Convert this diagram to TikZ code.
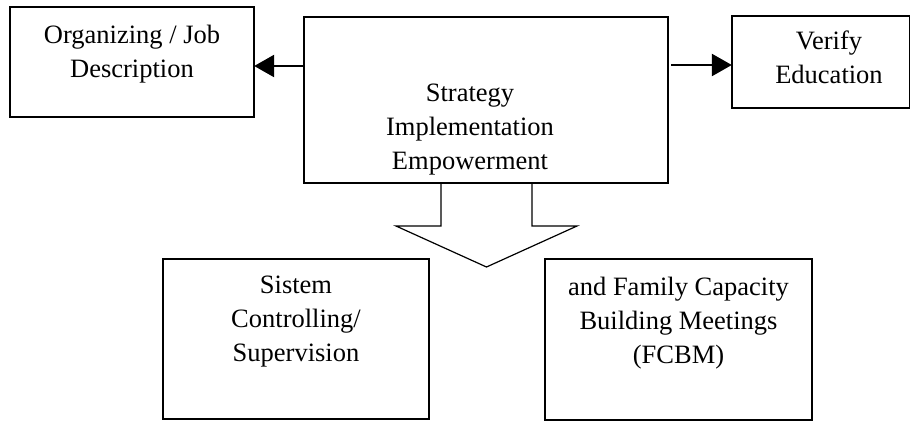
\documentclass[tikz,border=0pt]{standalone}
\usepackage{fontspec}
\setmainfont{Liberation Serif}
\usetikzlibrary{arrows.meta}
\begin{document}
\begin{tikzpicture}[x=1pt,y=-1pt,
  box/.style={draw=black,line width=1.2pt,fill=none},
  txt/.style={inner sep=0pt,align=center,anchor=base,font=\fontsize{26.5}{34}\selectfont},
  arr/.style={line width=2.6pt,-{Triangle[length=20pt,width=22pt]}},
  blockarrow/.style={draw=black,line width=1.2pt,line join=miter}]
\useasboundingbox (0,0) rectangle (910,421);
% boxes
\path[box] (10,7) rectangle (254,117);
\node[inner sep=0pt,minimum width=244pt,minimum height=110pt] (org) at (132,62) {};
\path[box] (304,17) rectangle (668,183);
\node[inner sep=0pt,minimum width=364pt,minimum height=166pt] (main) at (486,100) {};
\path[box] (732,16) rectangle (910,108);
\node[inner sep=0pt,minimum width=178pt,minimum height=92pt] (ver) at (821,62) {};
\path[box] (163,259) rectangle (429,419);
\node[inner sep=0pt,minimum width=266pt,minimum height=160pt] (sis) at (296,339) {};
\path[box] (545,259) rectangle (812,420);
\node[inner sep=0pt,minimum width=267pt,minimum height=161pt] (fam) at (678.5,339.5) {};
% texts (anchor = baseline of last line)
\node[txt] (orgt) at (132,77) {Organizing / Job\\Description};
\node[txt] (maint) at (470,169) {Strategy\\Implementation\\Empowerment};
\node[txt] (vert) at (829,83) {Verify\\Education};
\node[txt] (sist) at (296,361) {Sistem\\Controlling/\\Supervision};
\node[txt] (famt) at (678.5,363) {and Family Capacity\\Building Meetings\\(FCBM)};
% arrows
\draw[arr] (main.west |- 0,66) -- (org.east |- 0,66);
\draw[arr] ([xshift=3pt]main.east |- 0,65) -- (ver.west |- 0,65);
% block arrow
\coordinate (ba1) at (441,183);
\coordinate (ba2) at (532,183);
\draw[blockarrow] (ba1) -- (441,226) -- (396,226) -- (486.5,267) -- (577,226) -- (532,226) -- (ba2);
\end{tikzpicture}
\end{document}
